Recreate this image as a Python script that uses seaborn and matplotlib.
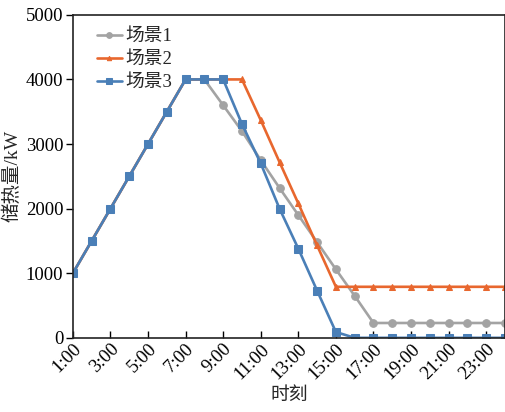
import matplotlib
matplotlib.use("Agg")
import matplotlib.pyplot as plt
import seaborn as sns
import pandas as pd

hours = list(range(1, 25))
scene1 = [1000, 1500, 2000, 2500, 3000, 3500, 4000, 4000, 3600, 3200, 2750, 2320,
          1900, 1480, 1060, 650, 230, 230, 230, 230, 230, 230, 230, 230]
scene2 = [1000, 1500, 2000, 2500, 3000, 3500, 4000, 4000, 4000, 4000, 3370, 2720,
          2080, 1430, 790, 790, 790, 790, 790, 790, 790, 790, 790, 790]
scene3 = [1000, 1500, 2000, 2500, 3000, 3500, 4000, 4000, 4000, 3310, 2700, 2000,
          1380, 730, 90, 0, 0, 0, 0, 0, 0, 0, 0, 0]
names = ["场景1", "场景2", "场景3"]
tick_hours = list(range(1, 24, 2))
tick_labels = [f"{h}:00" for h in tick_hours]

sns.set_theme(style="white")
plt.rcParams["font.family"] = ["Liberation Serif", "Noto Sans CJK SC"]
plt.rcParams["axes.unicode_minus"] = False

df = pd.DataFrame({
    "hour": hours * 3,
    "value": scene1 + scene2 + scene3,
    "scene": [names[0]] * 24 + [names[1]] * 24 + [names[2]] * 24,
})

fig = plt.figure(figsize=(5.06, 4.12), dpi=100)
ax = fig.add_axes([0.144, 0.180, 0.854, 0.784])

styles = {
    names[0]: dict(color="#a3a3a3", marker="o", markersize=5.5),
    names[1]: dict(color="#e8672e", marker="^", markersize=4.2),
    names[2]: dict(color="#4a7fb7", marker="s", markersize=6),
}
for name in names:
    sub = df[df["scene"] == name]
    st = styles[name]
    sns.lineplot(data=sub, x="hour", y="value", ax=ax, label=name,
                 color=st["color"], marker=st["marker"], markersize=st["markersize"],
                 markeredgecolor=st["color"], linewidth=1.9)

ax.set_xlim(1, 24)
ax.set_ylim(0, 5000)
ax.set_yticks(range(0, 5001, 1000))
ax.set_xticks(tick_hours)
ax.set_xticklabels(tick_labels, rotation=45, ha="right", rotation_mode="anchor")
ax.tick_params(axis="x", direction="in", length=5, width=1, labelsize=13.5, colors="black",
               pad=2, bottom=True)
ax.tick_params(axis="y", direction="out", length=5, width=1, labelsize=13.5, colors="black",
               left=True, pad=2)
for s in ax.spines.values():
    s.set_color("#222222")
    s.set_linewidth(1.2)

ax.set_xlabel("时刻", fontsize=13.5, labelpad=3)
ax.set_ylabel("储热量/kW", fontsize=14, labelpad=3)

leg = ax.legend(loc="upper left", frameon=False, fontsize=13.5, handlelength=1.35,
                handletextpad=0.15, labelspacing=0.32, borderaxespad=0.2,
                borderpad=0.5, markerscale=0.75, bbox_to_anchor=(0.025, 1.0))

fig.savefig("out.png", dpi=100)
